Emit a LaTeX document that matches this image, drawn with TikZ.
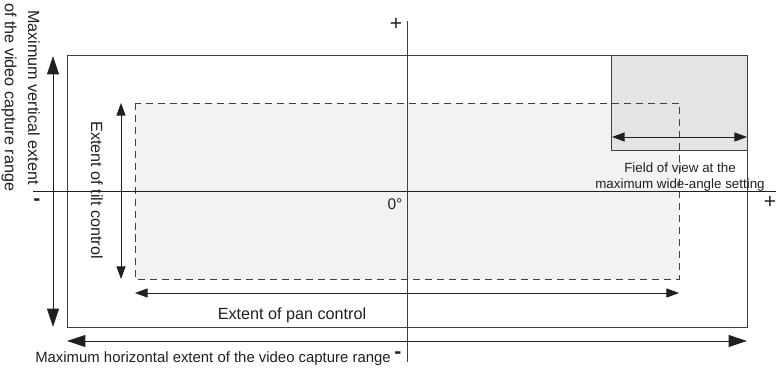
\documentclass[tikz,border=0pt]{standalone}
\usepackage{fontspec}
\setmainfont{Liberation Sans}
\usetikzlibrary{arrows.meta}
\definecolor{ink}{HTML}{231F20}
\definecolor{edge}{HTML}{404040}
\definecolor{panfill}{HTML}{F2F2F2}
\definecolor{viewfill}{HTML}{E4E4E4}

\begin{document}
\begin{tikzpicture}[x=0.025cm, y=-0.025cm,
    txt/.style={text=ink, inner sep=0},
    sign/.style={text=ink, inner sep=0, font=\fontsize{15}{17}\selectfont},
    wide/.style={line width=0.6pt, draw=ink,
      {Triangle[length=13pt,width=8.5pt]}-{Triangle[length=13pt,width=8.5pt]}},
    narrow/.style={line width=0.6pt, draw=ink,
      {Triangle[length=9pt,width=6.5pt]}-{Triangle[length=9pt,width=6.5pt]}}]

  \useasboundingbox (0,0) rectangle (776,373);

  % Extent of pan and tilt control (fill first)
  \coordinate (pan nw) at (135,103);
  \coordinate (pan se) at (679,279);
  \fill[panfill] (pan nw) rectangle (pan se);

  % Field of view at the wide-angle setting
  \coordinate (view nw) at (611,55);
  \coordinate (view se) at (747,150);
  \filldraw[fill=viewfill, draw=edge, line width=0.6pt] (view nw) rectangle (view se);

  % Dashed outline over both
  \draw[edge, line width=0.6pt, dash pattern=on 5pt off 3.5pt] (pan nw) rectangle (pan se);

  % Video capture range
  \coordinate (cap nw) at (67,55);
  \coordinate (cap se) at (747,327);
  \draw[edge, line width=0.6pt] (cap nw) rectangle (cap se);

  % Axes
  \coordinate (axis top) at (407,21);
  \coordinate (axis bottom) at (407,362);
  \coordinate (axis left) at (33,191);
  \coordinate (axis right) at (776,191);
  \draw[ink, line width=0.5pt] (axis left) -- (axis right);
  \draw[edge, line width=0.5pt] (axis top) -- (axis bottom);

  % Extent arrows
  \coordinate (vert top) at (53,56);
  \coordinate (vert bottom) at (53,327);
  \draw[wide] (vert top) -- (vert bottom);

  \coordinate (horz left) at (67,341);
  \coordinate (horz right) at (747,341);
  \draw[wide] (horz left) -- (horz right);

  \coordinate (tilt top) at (121,103);
  \coordinate (tilt bottom) at (121,279);
  \draw[narrow] (tilt top) -- (tilt bottom);

  \coordinate (pan left) at (135,293);
  \coordinate (pan right) at (679,293);
  \draw[narrow] (pan left) -- (pan right);

  \coordinate (view left) at (612,137);
  \coordinate (view right) at (747,137);
  \draw[narrow] (view left) -- (view right);

  % Labels
  \node[txt, anchor=base, font=\fontsize{11.5}{13}\selectfont]
    (pan label) at (292,320) {Extent of pan control};
  \node[txt, rotate=-90, font=\fontsize{11.5}{13}\selectfont]
    (tilt label) at (97,190) {Extent of tilt control};
  \node[txt, anchor=base west, font=\fontsize{10.6}{12}\selectfont]
    (horz label) at (35,363) {Maximum horizontal extent of the video capture range};
  \node[txt, rotate=-90, anchor=base west, font=\fontsize{11.5}{13}\selectfont]
    (vert label) at (28,10) {Maximum vertical extent};
  \node[txt, rotate=-90, anchor=base west, font=\fontsize{11.5}{13}\selectfont]
    (vert label b) at (5,3) {of the video capture range};
  \node[txt, anchor=base, align=center, font=\fontsize{9.5}{12}\selectfont]
    (view label) at (680,189) {Field of view at the\\maximum wide-angle setting};
  \node[txt, font=\fontsize{11}{13}\selectfont] (zero) at (395,204) {0°};

  % Axis signs
  \node[sign] (plus top) at (396,24) {+};
  \node[sign] (plus right) at (770,202) {+};
  \node[sign] (minus left) at (37,202) {\textbf{-}};
  \node[sign] (minus bottom) at (398,355) {\textbf{-}};

\end{tikzpicture}
\end{document}
